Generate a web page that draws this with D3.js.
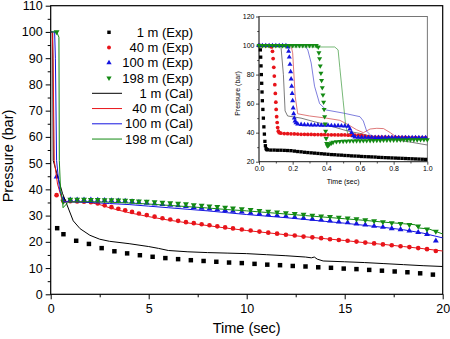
<!DOCTYPE html>
<html>
<head>
<meta charset="utf-8">
<script src="https://cdn.jsdelivr.net/npm/d3@7"></script>
<style>
body { margin: 0; background: #fff; }
svg { display: block; font-family: "Liberation Sans", Arial, sans-serif; }
</style>
</head>
<body>
<div id="chart"></div>
<script>
"use strict";

// ---- main panel, measured points ----
var expTimeBlack = [0.33, 0.65, 1.3, 1.95, 2.6, 3.25, 3.9, 4.55, 5.2, 5.85, 6.5, 7.15, 7.8, 8.45, 9.1, 9.75,
    10.4, 11.05, 11.7, 12.35, 13.0, 13.65, 14.3, 14.95, 15.6, 16.25, 16.9, 17.55, 18.2, 18.85, 19.5];
var expBlack = [25.2, 22.9, 20.4, 19.2, 17.6, 16.4, 15.6, 14.9, 14.3, 13.8, 13.4, 13.0, 12.7, 12.4, 12.1, 11.9,
    11.6, 11.3, 11.1, 10.8, 10.6, 10.3, 10.1, 9.8, 9.6, 9.3, 9.0, 8.7, 8.4, 8.0, 7.5];

// 40 m, 100 m and 198 m were logged on the same clock
var expTime = [0.3, 0.65, 1.0, 1.35, 1.7, 2.05, 2.4, 2.75, 3.1, 3.45, 3.8, 4.15, 4.5, 4.9, 5.3, 5.7, 6.1, 6.5,
    6.9, 7.3, 7.7, 8.1, 8.5, 8.9, 9.3, 9.75, 10.2, 10.65, 11.1, 11.55, 12.0, 12.45, 12.9, 13.35, 13.8, 14.25,
    14.7, 15.15, 15.6, 16.05, 16.5, 16.95, 17.4, 17.85, 18.3, 18.75, 19.2, 19.65];
var expRed = [37.8, 35.5, 35.5, 35.4, 35.3, 35.1, 34.6, 33.9, 33.2, 32.6, 32.0, 31.4, 30.8, 30.2, 29.6, 29.0,
    28.5, 28.0, 27.5, 27.1, 26.7, 26.3, 25.9, 25.5, 25.1, 24.7, 24.3, 23.9, 23.5, 23.1, 22.7, 22.4, 22.0, 21.7,
    21.4, 21.0, 20.7, 20.4, 20.1, 19.7, 19.4, 19.0, 18.7, 18.3, 18.0, 17.6, 17.2, 16.5];
var expBlue = [44.8, 36.2, 36.0, 36.0, 36.0, 36.0, 35.9, 35.8, 35.7, 35.6, 35.5, 35.3, 35.0, 34.8, 34.5, 34.3,
    34.0, 33.8, 33.5, 33.2, 32.9, 32.6, 32.3, 32.0, 31.7, 31.4, 31.0, 30.7, 30.4, 30.1, 29.8, 29.4, 29.1, 28.7,
    28.4, 28.0, 27.6, 27.3, 26.9, 26.5, 26.0, 25.6, 25.1, 24.7, 24.2, 23.6, 22.9, 20.4];
var expGreen = [100, 35.4, 36.2, 36.2, 36.2, 36.1, 36.1, 36.0, 36.0, 35.9, 35.8, 35.7, 35.5, 35.4, 35.2, 35.0,
    34.8, 34.6, 34.4, 34.1, 33.9, 33.6, 33.4, 33.1, 32.8, 32.5, 32.2, 31.9, 31.6, 31.3, 31.0, 30.7, 30.4, 30.1,
    29.8, 29.6, 29.3, 29.0, 28.7, 28.3, 28.0, 27.6, 27.2, 26.9, 26.5, 26.0, 24.8, 24.0];

// ---- main panel, calculated curves [time, pressure] ----
var calBlack = [[0, 100], [0.1, 100], [0.13, 51], [0.6, 38.5], [1.15, 28], [1.5, 25], [2, 22.5], [2.5, 21],
    [3, 20.2], [4, 19.3], [5, 18.2], [5.5, 17.5], [6, 16.7], [7, 16.2], [8, 15.9], [9, 15.7], [10, 15.5],
    [11, 15.1], [12, 14.7], [13, 14.2], [13.3, 13.9], [13.45, 14.2], [13.6, 13.4], [13.9, 12.7], [15, 12.4],
    [16, 12.1], [17, 11.7], [18, 11.3], [19, 10.9], [20, 10.6]];
var calRed = [[0, 100], [0.08, 100], [0.12, 90], [0.18, 51], [0.35, 42], [0.6, 35.5], [1, 35.3], [1.5, 35.2],
    [2, 35], [2.5, 34.2], [3, 33], [3.5, 32], [4, 31.1], [5, 29.6], [6, 28.3], [7, 27.2], [8, 26.2], [9, 25.2],
    [10, 24.3], [11, 23.5], [12, 22.7], [13, 21.9], [14, 21.2], [15, 20.5], [16, 19.7], [17, 19], [18, 18.2],
    [19, 17.4], [20, 16.5]];
var calBlue = [[0, 100], [0.2, 100], [0.24, 90], [0.3, 51], [0.45, 40], [0.65, 35.3], [2, 35], [3, 34.6],
    [4, 34.2], [5, 33.6], [6, 33], [7, 32.4], [8, 31.8], [9, 31.1], [10, 30.4], [11, 29.8], [12, 29.2],
    [13, 28.5], [14, 27.8], [15, 27.1], [16, 26.3], [17, 25.5], [18, 24.6], [19, 23.3], [20, 21.5]];
var calGreen = [[0, 100], [0.3, 100], [0.42, 98], [0.44, 51], [0.5, 40], [0.6, 36], [0.63, 33], [0.9, 35.2],
    [2, 35.3], [3, 35.1], [4, 34.8], [5, 34.4], [6, 33.9], [7, 33.4], [8, 32.9], [9, 32.3], [10, 31.8],
    [11, 31.2], [12, 30.6], [13, 30.0], [14, 29.4], [15, 28.8], [16, 28.2], [17, 27.5], [18, 26.9],
    [18.6, 26.5], [18.75, 25.3], [19.3, 24.9], [20, 23.0]];

// ---- inset, first second, measured [time, pressure] ----
var insBlackExp = [[0, 100], [0.004, 100], [0.008, 97], [0.01, 92], [0.012, 86], [0.014, 80], [0.016, 74],
    [0.018, 68], [0.02, 62], [0.023, 56], [0.026, 50], [0.029, 44], [0.032, 39], [0.035, 34], [0.038, 31],
    [0.042, 29], [0.046, 28.4], [0.05, 28.2], [0.07, 28.0], [0.09, 28.0], [0.11, 27.9], [0.13, 27.9],
    [0.15, 27.8], [0.17, 27.7], [0.19, 27.6], [0.21, 27.3], [0.23, 27.0], [0.25, 26.8], [0.27, 26.5],
    [0.29, 26.3], [0.31, 26.1], [0.33, 25.9], [0.35, 25.7], [0.37, 25.5], [0.39, 25.3], [0.41, 25.1],
    [0.43, 24.9], [0.45, 24.8], [0.47, 24.6], [0.49, 24.5], [0.51, 24.3], [0.53, 24.2], [0.55, 24.0],
    [0.57, 23.9], [0.59, 23.8], [0.61, 23.6], [0.63, 23.5], [0.65, 23.4], [0.67, 23.3], [0.69, 23.2],
    [0.71, 23.0], [0.73, 22.9], [0.75, 22.8], [0.77, 22.7], [0.79, 22.6], [0.81, 22.5], [0.83, 22.4],
    [0.85, 22.3], [0.87, 22.2], [0.89, 22.1], [0.91, 22.0], [0.93, 21.9], [0.95, 21.8], [0.97, 21.7],
    [0.99, 21.6]];
var insRedExp = [[0, 100], [0.02, 100], [0.04, 100], [0.06, 100], [0.075, 99], [0.08, 96], [0.084, 91],
    [0.088, 85], [0.091, 79], [0.094, 73], [0.097, 67], [0.1, 61], [0.102, 56], [0.105, 51], [0.108, 47],
    [0.111, 43.5], [0.115, 41], [0.12, 40], [0.13, 39.6], [0.15, 39.4], [0.17, 39.3], [0.19, 39.2],
    [0.21, 39.1], [0.23, 39.0], [0.25, 38.9], [0.27, 38.9], [0.29, 38.8], [0.31, 38.8], [0.33, 38.7],
    [0.35, 38.7], [0.37, 38.6], [0.39, 38.6], [0.41, 38.5], [0.43, 38.5], [0.45, 38.5], [0.47, 38.4],
    [0.49, 38.4], [0.51, 38.4], [0.53, 38.3], [0.55, 38.3], [0.57, 38.3], [0.59, 38.2], [0.61, 38.1],
    [0.63, 37.6], [0.65, 37.2], [0.67, 37.0], [0.69, 37.0], [0.71, 36.9], [0.73, 36.9], [0.75, 36.9],
    [0.77, 36.8], [0.79, 36.8], [0.81, 36.8], [0.83, 36.7], [0.85, 36.7], [0.87, 36.7], [0.89, 36.6],
    [0.91, 36.6], [0.93, 36.6], [0.95, 36.5], [0.97, 36.5], [0.99, 36.5]];
var insBlueExp = [[0, 100], [0.02, 100], [0.04, 100], [0.06, 100], [0.08, 100], [0.1, 100], [0.12, 100],
    [0.14, 100], [0.16, 100], [0.172, 99], [0.176, 96], [0.18, 92], [0.184, 87], [0.188, 82], [0.191, 77],
    [0.194, 72], [0.197, 67], [0.2, 62], [0.203, 57], [0.206, 53], [0.21, 50], [0.214, 48], [0.22, 46.8],
    [0.23, 46], [0.25, 45.6], [0.27, 45.5], [0.29, 45.4], [0.31, 45.3], [0.33, 45.2], [0.35, 45.2],
    [0.37, 45.1], [0.39, 45.0], [0.41, 45.0], [0.43, 44.9], [0.45, 44.8], [0.47, 44.8], [0.49, 44.7],
    [0.51, 44.6], [0.53, 44.4], [0.54, 42.5], [0.55, 40], [0.56, 37.8], [0.57, 37.0], [0.59, 36.8],
    [0.61, 36.8], [0.63, 36.8], [0.65, 36.8], [0.67, 36.8], [0.69, 36.7], [0.71, 36.7], [0.73, 36.7],
    [0.75, 36.7], [0.77, 36.7], [0.79, 36.7], [0.81, 36.7], [0.83, 36.6], [0.85, 36.6], [0.87, 36.6],
    [0.89, 36.6], [0.91, 36.6], [0.93, 36.6], [0.95, 36.6], [0.97, 36.6], [0.99, 36.6]];
var insGreenExp = [[0, 100], [0.02, 100], [0.04, 100], [0.06, 100], [0.08, 100], [0.1, 100], [0.12, 100],
    [0.14, 100], [0.16, 100], [0.18, 100], [0.2, 100], [0.22, 100], [0.24, 100], [0.26, 100], [0.28, 100],
    [0.3, 100], [0.32, 100], [0.34, 100], [0.352, 99], [0.356, 95], [0.36, 91], [0.364, 86], [0.368, 81],
    [0.372, 76], [0.376, 71], [0.38, 66], [0.384, 61], [0.387, 56], [0.39, 51], [0.393, 46], [0.396, 41],
    [0.399, 36], [0.402, 32.5], [0.406, 31], [0.412, 31.3], [0.42, 32.2], [0.43, 32.9], [0.44, 33.4],
    [0.46, 33.8], [0.48, 34.0], [0.5, 34.1], [0.52, 34.2], [0.54, 34.3], [0.56, 34.3], [0.58, 34.4],
    [0.6, 34.4], [0.62, 34.5], [0.64, 34.5], [0.66, 34.6], [0.68, 34.6], [0.7, 34.7], [0.72, 34.7],
    [0.74, 34.8], [0.76, 34.8], [0.78, 34.9], [0.8, 34.9], [0.82, 34.9], [0.84, 35.0], [0.86, 35.0],
    [0.88, 35.0], [0.9, 35.1], [0.92, 35.1], [0.94, 35.1], [0.96, 35.2], [0.98, 35.2], [1.0, 35.2]];

// ---- inset, calculated ----
var insBlackCal = [[0, 100], [0.13, 100], [0.145, 80], [0.155, 55], [0.17, 51.5], [0.25, 50], [0.33, 47.5],
    [0.4, 45.5], [0.5, 42], [0.55, 40.5], [0.6, 39.5], [0.65, 38], [0.7, 37], [0.8, 35.3], [0.9, 33.5], [1.0, 31.5]];
var insRedCal = [[0, 100], [0.19, 100], [0.2, 95], [0.215, 65], [0.23, 53], [0.3, 51.5], [0.4, 50],
    [0.48, 48.5], [0.53, 45.5], [0.58, 42], [0.62, 40], [0.66, 42.5], [0.7, 43], [0.74, 42.8], [0.78, 40],
    [0.81, 37.5], [0.85, 37], [1.0, 36.5]];
var insBlueCal = [[0, 100], [0.27, 100], [0.29, 97], [0.31, 88], [0.33, 72], [0.36, 60], [0.4, 55.6],
    [0.5, 53.5], [0.6, 51], [0.62, 48], [0.64, 41], [0.67, 37.5], [0.75, 36.8], [1.0, 36.5]];
var insGreenCal = [[0, 99], [0.45, 99], [0.47, 97], [0.48, 85], [0.5, 62], [0.515, 45], [0.53, 38],
    [0.6, 36], [1.0, 36.2]];

// ---- ticks and legend ----
var mainXTicks = [0, 5, 10, 15, 20];
var mainXMinor = [2.5, 7.5, 12.5, 17.5];
var mainYTicks = [0, 10, 20, 30, 40, 50, 60, 70, 80, 90, 100, 110];
var mainYMinor = [5, 15, 25, 35, 45, 55, 65, 75, 85, 95, 105];
var insXTicks = [0, 0.2, 0.4, 0.6, 0.8, 1.0];
var insXMinor = [0.1, 0.3, 0.5, 0.7, 0.9];
var insYTicks = [20, 40, 60, 80, 100, 120];
var insYMinor = [30, 50, 70, 90, 110];
var legendLabels = ["1 m (Exp)", "40 m (Exp)", "100 m (Exp)", "198 m (Exp)",
    "1 m (Cal)", "40 m (Cal)", "100 m (Cal)", "198 m (Cal)"];

var colors = { black: "#000000", red: "#e8141a", blue: "#1414e0", green: "#138a13" };

var w = 450, h = 339;

var svg = d3.select("#chart").append("svg")
    .attr("width", w)
    .attr("height", h);

var x = d3.scaleLinear().domain([0, 20]).range([50.7, 442.7]);
var y = d3.scaleLinear().domain([0, 110]).range([294.3, 5.7]);

function zip(ts, ps) {
    return ts.map(function(t, i) { return [t, ps[i]]; });
}

// marker shapes: square, circle, up triangle, down triangle
function marker(kind, size) {
    var type = { sq: d3.symbolSquare, ci: d3.symbolCircle, up: d3.symbolTriangle, dn: d3.symbolTriangle }[kind];
    return d3.symbol().type(type).size(size)();
}

function drawPoints(g, data, sx, sy, kind, size, color) {
    g.append("g").selectAll("path")
        .data(data)
        .enter()
        .append("path")
        .attr("d", marker(kind, size))
        .attr("transform", function(d) {
            return "translate(" + sx(d[0]) + "," + sy(d[1]) + ")" + (kind === "dn" ? " rotate(180)" : "");
        })
        .attr("fill", color);
}

function drawLine(g, data, sx, sy, color, width) {
    var line = d3.line().x(function(d) { return sx(d[0]); }).y(function(d) { return sy(d[1]); });
    g.append("path")
        .datum(data)
        .attr("d", line)
        .attr("fill", "none")
        .attr("stroke", color)
        .attr("stroke-width", width)
        .attr("stroke-linejoin", "round");
}

function styleAxis(g, fontSize) {
    g.select(".domain").remove();
    g.selectAll("text").attr("font-size", fontSize).attr("fill", "#000")
        .attr("font-family", "'Liberation Sans', Arial, sans-serif");
    g.selectAll("line").attr("stroke", "#000");
}

// ---------- main axes ----------
var main = svg.append("g");

var gx = main.append("g").attr("transform", "translate(0," + y(0) + ")")
    .call(d3.axisBottom(x).tickValues(mainXTicks).tickSize(5).tickPadding(5).tickFormat(d3.format("d")));
styleAxis(gx, 12.5);
var gxm = main.append("g").attr("transform", "translate(0," + y(0) + ")")
    .call(d3.axisBottom(x).tickValues(mainXMinor).tickSize(3).tickFormat(""));
styleAxis(gxm, 0);

var gy = main.append("g").attr("transform", "translate(" + x(0) + ",0)")
    .call(d3.axisLeft(y).tickValues(mainYTicks).tickSize(5).tickPadding(3).tickFormat(d3.format("d")));
styleAxis(gy, 12.5);
var gym = main.append("g").attr("transform", "translate(" + x(0) + ",0)")
    .call(d3.axisLeft(y).tickValues(mainYMinor).tickSize(3).tickFormat(""));
styleAxis(gym, 0);

main.append("rect")
    .attr("x", x(0)).attr("y", y(110))
    .attr("width", x(20) - x(0)).attr("height", y(0) - y(110))
    .attr("fill", "none").attr("stroke", "#000").attr("stroke-width", 1.2);

main.append("text")
    .attr("x", (x(0) + x(20)) / 2).attr("y", 333)
    .attr("text-anchor", "middle").attr("font-size", 14.5)
    .text("Time (sec)");

main.append("text")
    .attr("transform", "translate(13," + ((y(0) + y(110)) / 2 + 6) + ") rotate(-90)")
    .attr("text-anchor", "middle").attr("font-size", 14.5)
    .text("Pressure (bar)");

var plot = main.append("g");
drawPoints(plot, zip(expTimeBlack, expBlack), x, y, "sq", 20, colors.black);
drawPoints(plot, zip(expTime, expRed), x, y, "ci", 17, colors.red);
drawPoints(plot, zip(expTime, expBlue), x, y, "up", 15, colors.blue);
drawPoints(plot, zip(expTime, expGreen), x, y, "dn", 15, colors.green);
drawLine(plot, calBlack, x, y, colors.black, 1);
drawLine(plot, calRed, x, y, colors.red, 1);
drawLine(plot, calBlue, x, y, colors.blue, 1);
drawLine(plot, calGreen, x, y, colors.green, 1);

// ---------- legend ----------
var legend = main.append("g");
var legendKinds = ["sq", "ci", "up", "dn"];
var legendColors = [colors.black, colors.red, colors.blue, colors.green];
legendLabels.forEach(function(label, i) {
    var ly = 32.3 + i * 15.25;
    var c = legendColors[i % 4];
    if (i < 4) {
        legend.append("path")
            .attr("d", marker(legendKinds[i], 12))
            .attr("transform", "translate(109," + ly + ")" + (legendKinds[i] === "dn" ? " rotate(180)" : ""))
            .attr("fill", c);
    } else {
        legend.append("line")
            .attr("x1", 92).attr("x2", 122).attr("y1", ly).attr("y2", ly)
            .attr("stroke", c).attr("stroke-width", 1);
    }
    legend.append("text")
        .attr("x", 193).attr("y", ly).attr("dy", "0.36em")
        .attr("text-anchor", "end").attr("font-size", 13)
        .text(label);
});

// ---------- inset ----------
var ix = d3.scaleLinear().domain([0, 1]).range([259, 427.3]);
var iy = d3.scaleLinear().domain([20, 120]).range([161.7, 16.5]);
var inset = svg.append("g");

inset.append("rect")
    .attr("x", ix(0)).attr("y", iy(120))
    .attr("width", ix(1) - ix(0)).attr("height", iy(20) - iy(120))
    .attr("fill", "#fff").attr("stroke", "#555").attr("stroke-width", 0.8);

var igx = inset.append("g").attr("transform", "translate(0," + iy(20) + ")")
    .call(d3.axisBottom(ix).tickValues(insXTicks).tickSize(3).tickPadding(1.5).tickFormat(d3.format(".1f")));
styleAxis(igx, 7);
var igxm = inset.append("g").attr("transform", "translate(0," + iy(20) + ")")
    .call(d3.axisBottom(ix).tickValues(insXMinor).tickSize(1.8).tickFormat(""));
styleAxis(igxm, 0);
var igy = inset.append("g").attr("transform", "translate(" + ix(0) + ",0)")
    .call(d3.axisLeft(iy).tickValues(insYTicks).tickSize(3).tickPadding(1.5).tickFormat(d3.format("d")));
styleAxis(igy, 7);
var igym = inset.append("g").attr("transform", "translate(" + ix(0) + ",0)")
    .call(d3.axisLeft(iy).tickValues(insYMinor).tickSize(1.8).tickFormat(""));
styleAxis(igym, 0);
inset.selectAll(".tick line").attr("stroke-width", 0.7);

inset.append("path")
    .attr("d", "M" + ix(0) + "," + iy(120) + "V" + iy(20) + "H" + ix(1))
    .attr("fill", "none").attr("stroke", "#222").attr("stroke-width", 0.8);

inset.append("text")
    .attr("x", (ix(0) + ix(1)) / 2).attr("y", 184)
    .attr("text-anchor", "middle").attr("font-size", 7)
    .text("Time (sec)");
inset.append("text")
    .attr("transform", "translate(240,93.5) rotate(-90)")
    .attr("text-anchor", "middle").attr("font-size", 7)
    .text("Pressure (bar)");

var iplot = inset.append("g").attr("opacity", 1);
drawLine(iplot, insBlackCal, ix, iy, "#444", 0.7);
drawLine(iplot, insRedCal, ix, iy, "#d04040", 0.7);
drawLine(iplot, insBlueCal, ix, iy, "#4848d0", 0.7);
drawLine(iplot, insGreenCal, ix, iy, "#3c9a3c", 0.7);
drawPoints(iplot, insBlackExp, ix, iy, "sq", 11, colors.black);
drawPoints(iplot, insRedExp, ix, iy, "ci", 11, colors.red);
drawPoints(iplot, insBlueExp, ix, iy, "up", 11, colors.blue);
drawPoints(iplot, insGreenExp, ix, iy, "dn", 11, colors.green);
</script>
</body>
</html>
